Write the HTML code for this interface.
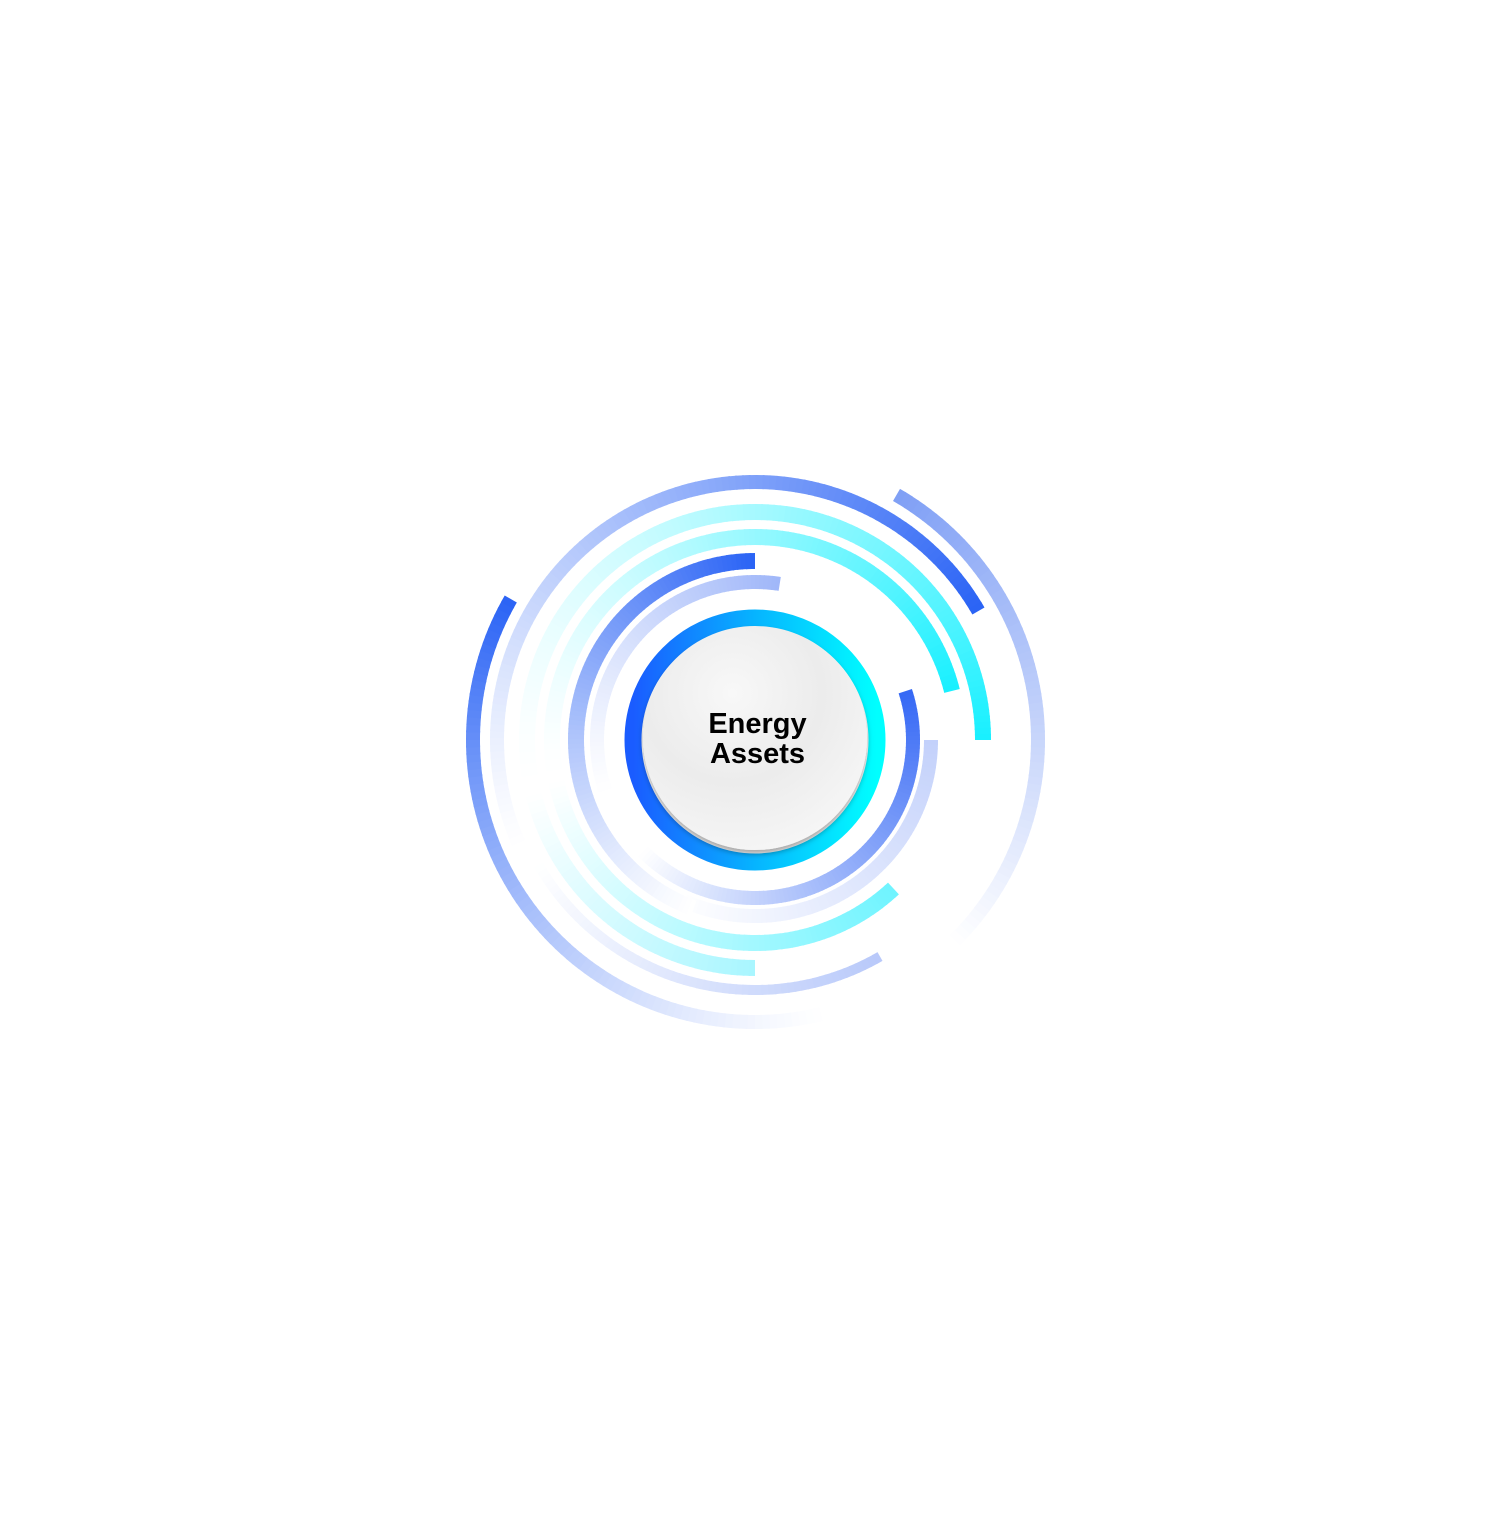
<!DOCTYPE html>
<html><head><meta charset="utf-8"><style>
html,body{margin:0;padding:0;background:#fff;}
#wrap{position:relative;width:1508px;height:1508px;}
.t{position:absolute;left:655px;width:205px;text-align:center;font-family:"Liberation Sans",sans-serif;font-weight:bold;font-size:29px;color:#000;line-height:30px;}
</style></head><body><div id="wrap">
<svg id="s" width="1508" height="1508" viewBox="0 0 1508 1508" xmlns="http://www.w3.org/2000/svg">
<defs>
<linearGradient id="ring" x1="0" y1="0" x2="1" y2="0">
<stop offset="0" stop-color="#1a5cff"/><stop offset="0.5" stop-color="#06b4ff"/><stop offset="1" stop-color="#00ffff"/>
</linearGradient>
<radialGradient id="disc" cx="0.4" cy="0.3" r="0.8">
<stop offset="0" stop-color="#f8f8f8"/><stop offset="0.5" stop-color="#ececec"/><stop offset="1" stop-color="#f8f8f8"/>
</radialGradient>
<filter id="sh" x="-20%" y="-20%" width="140%" height="140%"><feDropShadow dx="0" dy="4" stdDeviation="3" flood-color="#000" flood-opacity="0.35"/></filter>
</defs>
<g id="arcs"></g>
<circle cx="755" cy="740" r="122" fill="none" stroke="url(#ring)" stroke-width="17"/>
<circle cx="755" cy="738" r="112" fill="url(#disc)" filter="url(#sh)"/>
</svg>
<div class="t" style="top:709px">Energy</div>
<div class="t" style="top:739px">Assets</div>
</div>
<script>
var cx=755,cy=740,g=document.getElementById('arcs');
function hex(c){return [parseInt(c.substr(1,2),16),parseInt(c.substr(3,2),16),parseInt(c.substr(5,2),16)];}
function arc(r,a0,a1,w,col,pw){
  var c=hex(col);
  var n=Math.max(2,Math.ceil(Math.abs(a1-a0)/1.5));
  for(var i=n-1;i>=0;i--){
    var s=a0+(a1-a0)*i/n,e=a0+(a1-a0)*(i+1)/n;
    var ss=i>0?s-(a1>a0?0.4:-0.4):s;
    var t=(i+0.5)/n,op=Math.pow(1-t,pw||1);
    var rgb=c.map(function(v){return Math.round(255-(255-v)*op);});
    var p1=[cx+r*Math.cos(ss*Math.PI/180),cy+r*Math.sin(ss*Math.PI/180)];
    var p2=[cx+r*Math.cos(e*Math.PI/180),cy+r*Math.sin(e*Math.PI/180)];
    var sw=a1>a0?1:0;
    var p=document.createElementNS('http://www.w3.org/2000/svg','path');
    p.setAttribute('d','M'+p1[0]+' '+p1[1]+' A'+r+' '+r+' 0 0 '+sw+' '+p2[0]+' '+p2[1]);
    p.setAttribute('fill','none');p.setAttribute('stroke','rgb('+rgb.join(',')+')');
    p.setAttribute('stroke-width',w);
    g.appendChild(p);
  }
}
arc(258,-30,-205,14,'#2a63f5',1.2);
arc(282,-150,-285,14,'#2a63f5',1.3);
arc(283,-60,45,14,'#7f9ff5',1);
arc(228,0,-192,16,'#18f0ff',1.5);
arc(203,-14,-190,16,'#18f0ff',1.4);
arc(250,60,150,10,'#b8c9fa',1);
arc(228,90,166,16,'#a8f6ff',1);
arc(203,47,168,16,'#6ff4ff',1);
arc(176,0,115,14,'#c3d1fb',1);
arc(179,-90,-250,16,'#2a63f5',1.2);
arc(158,-81,-200,14,'#9fb6f9',1.2);
arc(158,-18,135,14,'#3568f5',1);
</script>
</body></html>
